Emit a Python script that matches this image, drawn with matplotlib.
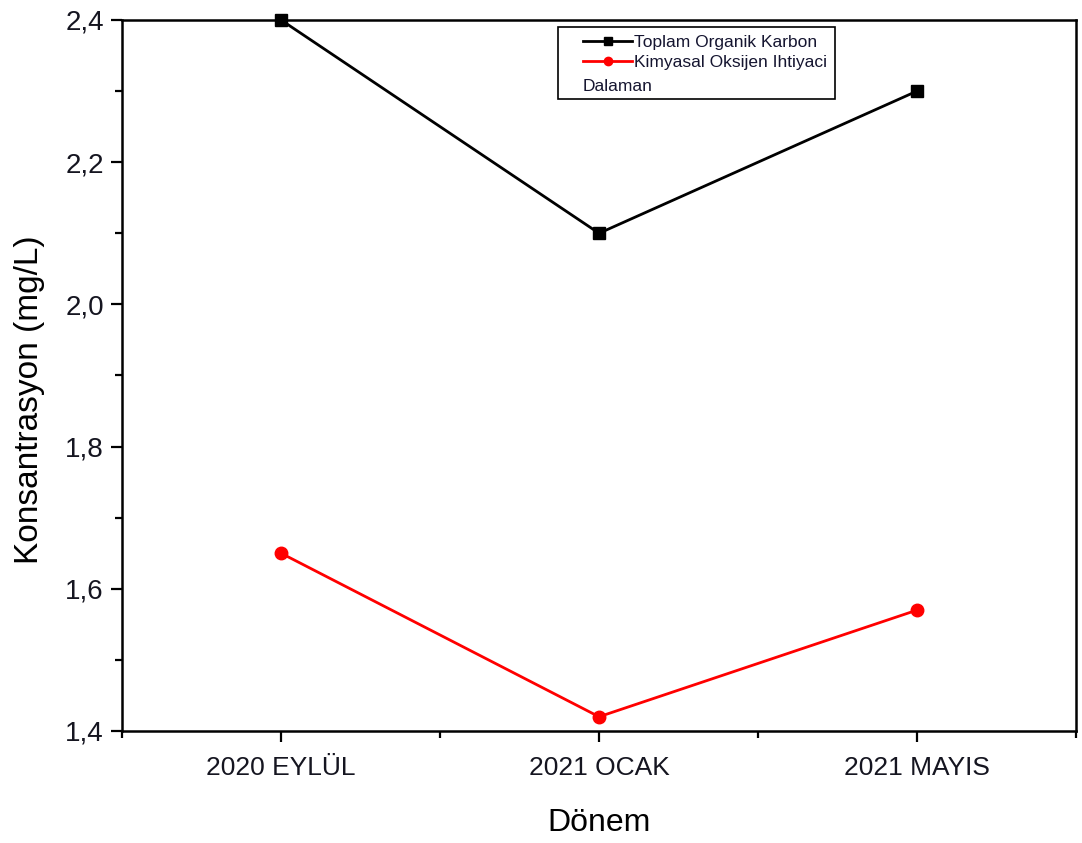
import matplotlib
matplotlib.use("Agg")
import matplotlib.pyplot as plt
from matplotlib.ticker import MultipleLocator, FixedLocator, FuncFormatter
from matplotlib.lines import Line2D
from matplotlib.legend_handler import HandlerLine2D

periods = ["2020 EYLÜL", "2021 OCAK", "2021 MAYIS"]
toc = [2.4, 2.1, 2.3]
cod = [1.65, 1.42, 1.57]
toc_label = "Toplam Organik Karbon"
cod_label = "Kimyasal Oksijen Ihtiyaci"
site = "Dalaman"

plt.rcParams['font.family'] = ['Liberation Sans', 'DejaVu Sans']

fig = plt.figure(figsize=(10.82, 8.43), dpi=100)
ax = fig.add_axes([0.1128, 0.1329, 0.8817, 0.8434])

x = list(range(1, len(periods) + 1))
ax.plot(x, toc, color='black', lw=2.0, marker='s', ms=9, clip_on=False, zorder=3)
ax.plot(x, cod, color='#ff0000', lw=2.0, marker='o', ms=9, clip_on=False, zorder=3)

ax.set_xlim(0.5, 3.5)
ax.set_ylim(1.4, 2.4)
ax.set_xticks(x)
ax.set_xticklabels(periods, fontsize=19)
ax.xaxis.set_minor_locator(FixedLocator([0.5, 1.5, 2.5, 3.5]))
ax.yaxis.set_major_locator(MultipleLocator(0.2))
ax.yaxis.set_minor_locator(MultipleLocator(0.1))
ax.yaxis.set_major_formatter(FuncFormatter(lambda v, p: f"{v:.1f}".replace('.', ',')))

ax.tick_params(axis='both', which='major', direction='out', length=8, width=1.6,
               colors='black', labelcolor='#151520')
ax.tick_params(axis='both', which='minor', direction='out', length=5, width=1.6)
ax.tick_params(axis='y', labelsize=20, pad=5)
ax.tick_params(axis='x', pad=10)
for s in ax.spines.values():
    s.set_linewidth(1.8)

ax.set_ylabel("Konsantrasyon (mg/L)", fontsize=24)
ax.yaxis.set_label_coords(-0.081, 0.466)
ax.set_xlabel("Dönem", fontsize=23, labelpad=20)

# legend handles start a bit in from the frame, like the original
handles = [
    Line2D([], [], color='black', lw=2.0, marker='s', ms=6),
    Line2D([], [], color='#ff0000', lw=2.0, marker='o', ms=6),
    Line2D([], [], color='none'),
]
hmap = {h: HandlerLine2D(xpad=1.0) for h in handles}
leg = ax.legend(handles, [toc_label, cod_label, " "], loc='upper left',
                bbox_to_anchor=(0.457, 0.99), fontsize=12.5, frameon=True,
                fancybox=False, edgecolor='black', handlelength=3.8,
                handletextpad=0.15, borderpad=0.45, labelspacing=0.3,
                borderaxespad=0, framealpha=1, handler_map=hmap)
leg.get_frame().set_linewidth(1.2)
for t in leg.get_texts():
    t.set_color('#151530')

ax.text(0.483, 0.907, site, transform=ax.transAxes, fontsize=12.5,
        color='#151530', ha='left', va='center', zorder=10)

fig.savefig("out.png", dpi=100)
